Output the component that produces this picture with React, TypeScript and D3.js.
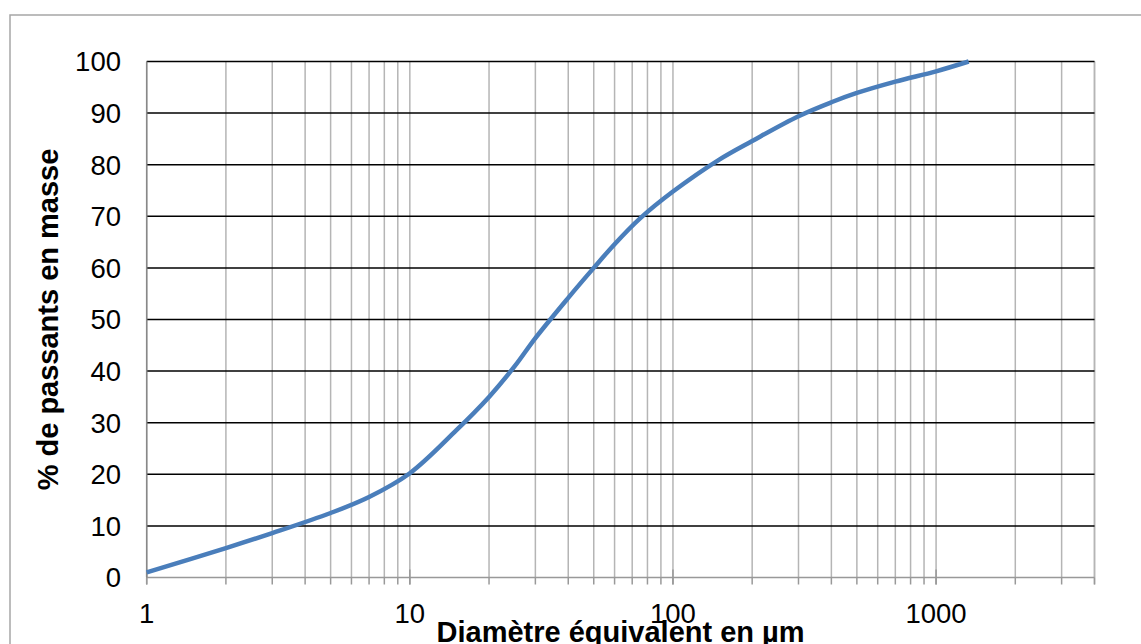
import React from "react";
import * as d3 from "d3";

const diameters = [1, 2, 3, 5, 7, 10, 15, 20, 25, 30, 40, 50, 60, 75, 100, 150, 200, 300, 400, 500, 700, 1000, 1330];
const passing = [1.0, 5.7, 8.6, 12.5, 15.6, 20.2, 28.5, 35.0, 40.9, 46.4, 54.2, 60.0, 64.6, 69.6, 74.8, 81.0, 84.6, 89.4, 92.1, 93.9, 96.1, 98.1, 100];
const xTickLabels = [1, 10, 100, 1000];
const yTicks = [0, 10, 20, 30, 40, 50, 60, 70, 80, 90, 100];
const xTitle = "Diamètre équivalent en µm";
const yTitle = "% de passants en masse";

const W = 1141;
const H = 644;
const FONT = "'Liberation Sans', Arial, sans-serif";

export default function App() {
  const x = d3.scaleLog().domain([1, 4000]).range([146.7, 1094.5]);
  const y = d3.scaleLinear().domain([0, 100]).range([577.5, 61.5]);

  const gridX: number[] = [];
  for (let p = 1; p <= 1000; p *= 10) {
    for (let m = 1; m <= 9; m++) {
      const v = p * m;
      if (v <= 4000) gridX.push(v);
    }
  }
  const data = diameters.map((d, i) => [d, passing[i]] as [number, number]);
  const line = d3
    .line<[number, number]>()
    .x((d) => x(d[0]))
    .y((d) => y(d[1]))
    .curve(d3.curveCatmullRom.alpha(0.5));

  const [x0, x1] = x.range();
  const [yb, yt] = y.range();

  return (
    <svg
      width={W}
      height={H}
      style={{ position: "absolute", left: 0, top: 0, background: "#fff" }}
      fontFamily={FONT}
    >
      <rect x={0} y={0} width={W} height={H} fill="#fff" />
      <rect x={10} y={15} width={W + 50} height={H + 50} fill="#fff" stroke="#a6a6a6" strokeWidth={1.5} />

      {gridX.map((v) => (
        <line key={"gx" + v} x1={x(v)} x2={x(v)} y1={yt} y2={yb} stroke="#b5b5b5" strokeWidth={1.5} />
      ))}
      <line x1={x1} x2={x1} y1={yt} y2={yb + 7} stroke="#b5b5b5" strokeWidth={1.5} />

      {yTicks.filter((t) => t > 0).map((t) => (
        <line key={"gy" + t} x1={x0} x2={x1} y1={y(t)} y2={y(t)} stroke="#000" strokeWidth={1.5} />
      ))}

      <line x1={x0} x2={x1} y1={yb} y2={yb} stroke="#999" strokeWidth={1.5} />
      {gridX.map((v) => (
        <line key={"tk" + v} x1={x(v)} x2={x(v)} y1={yb} y2={yb + 7} stroke="#999" strokeWidth={1.5} />
      ))}
      {xTickLabels.map((v) => (
        <line key={"mt" + v} x1={x(v)} x2={x(v)} y1={yb - 8} y2={yb + 7} stroke="#999" strokeWidth={1.5} />
      ))}
      <line x1={x0} x2={x0} y1={yt} y2={yb} stroke="#888" strokeWidth={1.5} />

      <path d={line(data) || ""} fill="none" stroke="#4a7ebb" strokeWidth={4.5} strokeLinecap="butt" />

      {yTicks.map((t) => (
        <text key={"yl" + t} x={121} y={y(t)} dy="0.36em" textAnchor="end" fontSize={27.5} fill="#000">
          {t}
        </text>
      ))}
      {xTickLabels.map((v) => (
        <text key={"xl" + v} x={x(v)} y={623} textAnchor="middle" fontSize={27.5} fill="#000">
          {v}
        </text>
      ))}

      <text x={(x0 + x1) / 2} y={642} textAnchor="middle" fontSize={29} fontWeight="bold" fill="#000">
        {xTitle}
      </text>
      <text
        transform={`translate(58, ${(yt + yb) / 2}) rotate(-90)`}
        textAnchor="middle"
        fontSize={29}
        fontWeight="bold"
        fill="#000"
      >
        {yTitle}
      </text>
    </svg>
  );
}
